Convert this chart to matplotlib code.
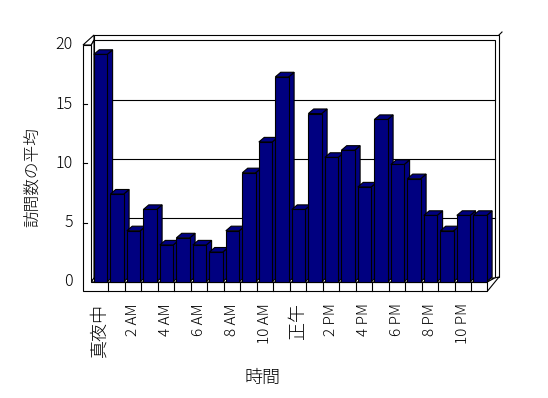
import matplotlib
matplotlib.use('Agg')
import matplotlib.pyplot as plt
from matplotlib.patches import Polygon

plt.rcParams['font.family'] = ['Noto Sans CJK JP', 'DejaVu Sans']

# ---- data ----
hour_labels = ['真夜中', '1 AM', '2 AM', '3 AM', '4 AM', '5 AM', '6 AM', '7 AM',
               '8 AM', '9 AM', '10 AM', '11 AM', '正午', '1 PM', '2 PM', '3 PM',
               '4 PM', '5 PM', '6 PM', '7 PM', '8 PM', '9 PM', '10 PM', '11 PM']
visits = [19.2, 7.4, 4.3, 6.1, 3.1, 3.7, 3.1, 2.5, 4.3, 9.2, 11.8, 17.3,
          6.1, 14.2, 10.5, 11.1, 8.0, 13.7, 9.9, 8.7, 5.6, 4.3, 5.6, 5.6]
y_ticks = [0, 5, 10, 15, 20]
x_title = '時間'
y_title = '訪問数の平均'

# ---- geometry (pixel mapping of the front plane) ----
W, H = 548, 398
X0, SX = 91.7, 16.5      # px of category 0 left edge, px per category
Y0, SY = 281.7, 11.84    # px (from top) of value 0, px per unit
LW = 0.8
NAVY = '#000080'

fig = plt.figure(figsize=(W / 100, H / 100), dpi=100)
ax = fig.add_axes([0, 0, 1, 1])
ax.set_xlim(-X0 / SX, (W - X0) / SX)
ax.set_ylim((Y0 - H) / SY, Y0 / SY)
ax.axis('off')


def PX(xp):
    return (xp - X0) / SX


def PY(yp):
    return (Y0 - yp) / SY


def P(xp, yp):
    return (PX(xp), PY(yp))


def poly(pts, fc='white', z=1):
    ax.add_patch(Polygon([P(*p) for p in pts], closed=True, facecolor=fc,
                         edgecolor='black', lw=LW, zorder=z))


# ---- box (walls & floor) ----
poly([(94, 35), (499, 35), (499, 277), (94, 277)], z=1)            # back wall slab
poly([(94, 40), (494.7, 40), (494.7, 278), (94, 278)], z=1.1)      # back wall inner face
ax.plot([PX(499), PX(502)], [PY(35), PY(32)], color='black', lw=LW, zorder=1.2)
poly([(83, 45), (91.3, 45), (94, 40), (94, 35)], z=1.2)           # left wall top
poly([(91.3, 45), (94, 40), (94, 278), (91.3, 282)], z=1.2)        # left wall inner face
poly([(91.3, 282), (487.3, 282), (494.7, 278), (94, 278)], z=1.2)  # floor top
poly([(487.3, 282), (487.3, 291.3), (499, 277), (494.7, 278)], z=1.2)  # floor right side
poly([(83, 45), (91.3, 45), (91.3, 282), (487.3, 282), (487.3, 291.3), (83, 291.3)], z=1.3)

# gridlines on back wall
back_dy = (Y0 - 277.3) / SY
for v in y_ticks[1:-1]:
    ax.plot([PX(94), PX(494.7)], [v + back_dy, v + back_dy], color='black', lw=LW, zorder=1.15)

# ticks on the left wall front face
for v in y_ticks[1:-1]:
    ax.plot([PX(83), PX(87.3)], [v, v], color='black', lw=LW, zorder=1.4)

# category dividers on floor front
for k in range(1, len(visits)):
    ax.plot([k, k], [PY(282), PY(291.3)], color='black', lw=LW, zorder=1.4)

# ---- bars (pseudo 3D) ----
off, bw = 0.13, 0.81
ddx, ddy = 5.4 / SX, 4.6 / SY
xs = [i + off for i in range(len(visits))]
bars = ax.bar(xs, visits, width=bw, align='edge', color=NAVY,
              edgecolor='black', linewidth=LW)
for i, (b, v) in enumerate(zip(bars, visits)):
    xl = xs[i]
    xr = xl + bw
    zb = 3 + 2 * i
    side = Polygon([(xr, 0), (xr, v), (xr + ddx, v + ddy), (xr + ddx, ddy)],
                   closed=True, facecolor=NAVY, edgecolor='black', lw=LW, zorder=zb)
    top = Polygon([(xl, v), (xr, v), (xr + ddx, v + ddy), (xl + ddx, v + ddy)],
                  closed=True, facecolor=NAVY, edgecolor='black', lw=LW, zorder=zb)
    ax.add_patch(side)
    ax.add_patch(top)
    b.set_zorder(zb + 1)

# ---- text ----
TW = 'light'
for v in y_ticks:
    ax.text(PX(73), v, str(v), ha='right', va='center', fontsize=11.5, fontweight=TW)

for i in range(0, len(hour_labels), 2):
    lab = hour_labels[i]
    fs = 13 if not lab.isascii() else 11
    ax.text(i + 0.5, PY(303), lab, rotation=90, ha='center', va='top',
            fontsize=fs, fontweight=TW)

ax.text(PX(262), PY(378), x_title, ha='center', va='center', fontsize=13, fontweight=TW)
ax.text(PX(32), PY(177), y_title, ha='center', va='center', rotation=90,
        fontsize=12, fontweight=TW)

fig.savefig('out.png', dpi=100)
